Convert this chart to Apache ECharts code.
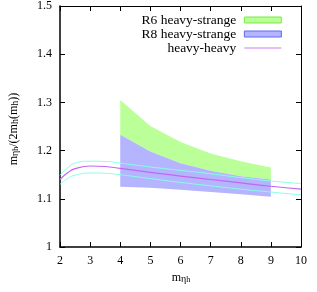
<!DOCTYPE html>
<html><head><meta charset="utf-8">
<script src="https://cdn.jsdelivr.net/npm/echarts@6/dist/echarts.min.js"></script>
<style>html,body{margin:0;padding:0;background:#fff}#c{width:317px;height:292px}</style>
</head><body><div id="c"></div>
<script>
// Heavy-strange bands (x = m_eta_h)
var bandX = [4, 5, 6, 7, 8, 9];
var r6Top = [1.305, 1.251, 1.218, 1.194, 1.178, 1.165];
var r8Top = [1.233, 1.198, 1.174, 1.158, 1.147, 1.140];
var r8Bot = [1.125, 1.123, 1.119, 1.114, 1.1095, 1.104];
// Heavy-heavy curve with error band
var hhX     = [2, 2.25, 2.5, 3, 3.5, 4, 4.5, 5, 6, 7, 8, 9, 10];
var hhMid   = [1.140, 1.154, 1.1625, 1.168, 1.167, 1.163, 1.159, 1.155, 1.147, 1.140, 1.133, 1.126, 1.120];
var hhUpper = [1.149, 1.164, 1.174, 1.178, 1.1775, 1.174, 1.170, 1.166, 1.159, 1.152, 1.144, 1.137, 1.1316];
var hhLower = [1.130, 1.142, 1.149, 1.1535, 1.153, 1.150, 1.146, 1.142, 1.134, 1.127, 1.120, 1.114, 1.108];
var xTicks = [2, 3, 4, 5, 6, 7, 8, 9, 10];
var yTicks = [1, 1.1, 1.2, 1.3, 1.4, 1.5];

function pairs(xs, ys) { return xs.map(function (x, i) { return [x, ys[i]]; }); }
function bandData(xs, lo, hi) { return xs.map(function (x, i) { return [x, lo[i], hi[i]]; }); }
function bandRender(xs, lo, hi, color) {
  return function (params, api) {
    if (params.dataIndex !== 0) return null;
    var pts = [], i;
    for (i = 0; i < xs.length; i++) pts.push(api.coord([xs[i], hi[i]]));
    for (i = xs.length - 1; i >= 0; i--) pts.push(api.coord([xs[i], lo[i]]));
    return {type: 'polygon', shape: {points: pts}, style: {fill: color, stroke: null}};
  };
}

var FONT = '"Liberation Serif","DejaVu Serif",serif';
var chart = echarts.init(document.getElementById('c'));
var axisCommon = {
  type: 'value', splitLine: {show: false},
  axisLine: {show: true, lineStyle: {color: '#000', width: 1.5}},
  axisTick: {show: true, inside: true, length: 5, lineStyle: {color: '#000', width: 1}}
};
var GREEN = '#bbff99', BLUE = '#b4b4ff', PURPLE = '#c466f2', CYAN = '#88ffe6';
var richT = {
  m: {fontFamily: FONT, fontSize: 12, fill: '#000', verticalAlign: 'bottom', lineHeight: 16},
  s: {fontFamily: FONT, fontSize: 10, fill: '#000', verticalAlign: 'bottom', lineHeight: 10, padding: [4, 0, 0, 0]},
  ss: {fontFamily: FONT, fontSize: 8, fill: '#000', verticalAlign: 'bottom', lineHeight: 6, padding: [8, 0, 0, 0]}
};
var option = {
  animation: false,
  grid: {left: 60, right: 16, top: 5, bottom: 45, containLabel: false},
  xAxis: [
    Object.assign({}, axisCommon, {min: xTicks[0], max: xTicks[xTicks.length - 1], interval: 1, position: 'bottom',
      axisLabel: {color: '#000', fontFamily: FONT, fontSize: 12, margin: 8}}),
    Object.assign({}, axisCommon, {min: xTicks[0], max: xTicks[xTicks.length - 1], interval: 1, position: 'top',
      axisLabel: {show: false}, axisLine: {show: true, lineStyle: {color: '#000', width: 1}}})
  ],
  yAxis: [
    Object.assign({}, axisCommon, {min: yTicks[0], max: yTicks[yTicks.length - 1], interval: 0.1, position: 'left',
      axisLabel: {color: '#000', fontFamily: FONT, fontSize: 12, margin: 8,
        formatter: function (v) { return String(+v.toFixed(1)); }}}),
    Object.assign({}, axisCommon, {min: yTicks[0], max: yTicks[yTicks.length - 1], interval: 0.1, position: 'right',
      axisLabel: {show: false}, axisLine: {show: true, lineStyle: {color: '#000', width: 1}}})
  ],
  legend: {
    orient: 'vertical', right: 30, top: 8, align: 'right',
    itemWidth: 37, itemHeight: 6, itemGap: 0,
    textStyle: {fontFamily: FONT, fontSize: 13.5, color: '#000', lineHeight: 12.5, padding: [0, 3, 0, 0]},
    data: [
      {name: 'R6 heavy-strange', icon: 'rect', itemStyle: {color: GREEN, borderColor: '#77ee44', borderWidth: 1}},
      {name: 'R8 heavy-strange', icon: 'rect', itemStyle: {color: BLUE, borderColor: '#5a6cf0', borderWidth: 1}},
      {name: 'heavy-heavy', itemStyle: {color: 'rgba(0,0,0,0)', borderColor: 'rgba(0,0,0,0)', borderWidth: 0},
        lineStyle: {color: '#dca8fb', width: 1.3}}
    ]
  },
  series: [
    {name: 'R6 heavy-strange', type: 'custom', data: bandData(bandX, r8Top, r6Top),
      renderItem: bandRender(bandX, r8Top, r6Top, GREEN), itemStyle: {color: GREEN}, z: 1, silent: true},
    {name: 'R8 heavy-strange', type: 'custom', data: bandData(bandX, r8Bot, r8Top),
      renderItem: bandRender(bandX, r8Bot, r8Top, BLUE), itemStyle: {color: BLUE}, z: 2, silent: true},
    {name: 'hhUpper', type: 'line', data: pairs(hhX, hhUpper), symbol: 'none', smooth: true,
      lineStyle: {color: CYAN, width: 1}, z: 3},
    {name: 'hhLower', type: 'line', data: pairs(hhX, hhLower), symbol: 'none', smooth: true,
      lineStyle: {color: CYAN, width: 1}, z: 3},
    {name: 'heavy-heavy', type: 'line', data: pairs(hhX, hhMid), symbol: 'none', smooth: true,
      itemStyle: {color: PURPLE}, lineStyle: {color: PURPLE, width: 1.2}, z: 4}
  ],
  graphic: [
    {type: 'text', x: 181, y: 276, style: {
      text: '{m|m}{s|η}{ss|h}', textAlign: 'center', textVerticalAlign: 'middle', rich: richT
    }},
    {type: 'text', x: 12, y: 129, rotation: Math.PI / 2, style: {
      text: '{m|m}{s|η}{ss|h}{m|/(2m}{s|h}{m|(m}{s|h}{m|))}', textAlign: 'center', textVerticalAlign: 'middle', rich: richT
    }}
  ]
};
chart.setOption(option);
</script></body></html>
